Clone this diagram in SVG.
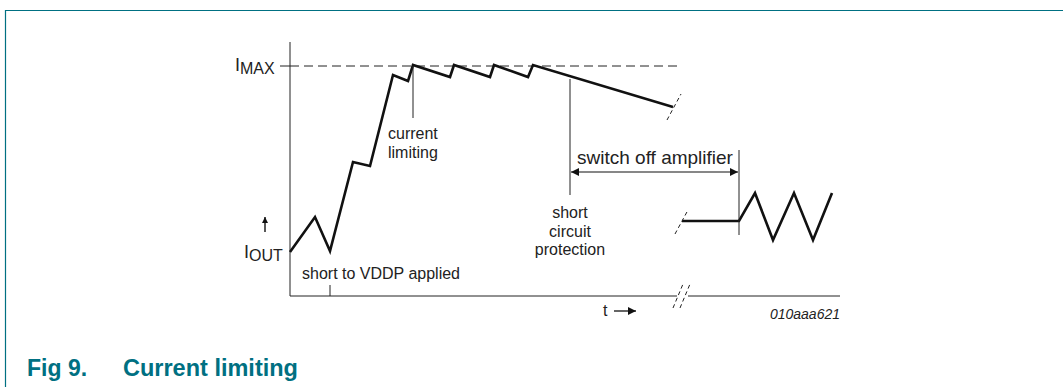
<svg xmlns="http://www.w3.org/2000/svg" width="1063" height="387" viewBox="0 0 1063 387">
<style>
text{font-family:"Liberation Sans",Arial,sans-serif;fill:#222}
.lbl{font-size:16px}
.wave{fill:none;stroke:#111;stroke-width:2.6;stroke-linejoin:miter}
.thin{fill:none;stroke:#222;stroke-width:1}
.brk{fill:none;stroke:#222;stroke-width:1;stroke-dasharray:4,3}
</style>
<defs>
<marker id="ah" viewBox="0 0 10 10" refX="10" refY="5" markerWidth="10" markerHeight="8" markerUnits="userSpaceOnUse" orient="auto-start-reverse"><path d="M0,0 L10,5 L0,10 z" fill="#111"/></marker>
<marker id="ahs" viewBox="0 0 10 10" refX="10" refY="5" markerWidth="7" markerHeight="6" markerUnits="userSpaceOnUse" orient="auto"><path d="M0,0 L10,5 L0,10 z" fill="#111"/></marker>
</defs>
<g id="frame">
<path d="M5.5,387 V10.5 H1063" fill="none" stroke="#007082" stroke-width="1.2"/>
</g>
<g id="axes">
<line class="thin" x1="290" y1="42" x2="290" y2="296"/>
<line class="thin" x1="290" y1="296" x2="677" y2="296"/>
<line class="thin" x1="688" y1="296" x2="840" y2="296"/>
<line class="brk" x1="673" y1="308" x2="683" y2="284"/>
<line class="brk" x1="680" y1="308" x2="690" y2="284"/>
<line class="thin" x1="280" y1="66" x2="290" y2="66"/>
<line class="thin" x1="290" y1="66" x2="677" y2="66" stroke-dasharray="9,5"/>
</g>
<g id="labels-axes">
<text x="235" y="71" font-size="18">I<tspan font-size="16" dy="3">MAX</tspan></text>
<text x="244" y="258" font-size="18">I<tspan font-size="16" dy="3">OUT</tspan></text>
<line x1="265" y1="232" x2="265" y2="217" stroke="#111" stroke-width="1.4" marker-end="url(#ahs)"/>
<text class="lbl" x="603" y="316">t</text>
<line x1="614" y1="311" x2="636" y2="311" stroke="#111" stroke-width="1.3" marker-end="url(#ah)"/>
<text x="840" y="319" font-size="14" font-style="italic" text-anchor="end">010aaa621</text>
</g>
<g id="waveform">
<polyline class="wave" points="290,252 315,217 330,251 353,162 370,166 393,75 408,81 413,65 450,77 454,65 490,77 494,65 528,77 533,65 673,107"/>
<line class="brk" x1="667" y1="120" x2="681" y2="94"/>
<polyline class="wave" points="682,221 739,221 755,193 773,240 794,193 813,240 832,193"/>
<line class="brk" x1="675" y1="234" x2="688" y2="210"/>
</g>
<g id="current-limiting">
<line class="thin" x1="413" y1="66" x2="413" y2="118"/>
<text class="lbl" x="388" y="139">current</text>
<text class="lbl" x="388" y="158">limiting</text>
</g>
<g id="short-to-vddp">
<line class="thin" x1="330" y1="285" x2="330" y2="296"/>
<text class="lbl" x="302" y="279">short to VDDP applied</text>
</g>
<g id="short-circuit-protection">
<line class="thin" x1="570" y1="79" x2="570" y2="195"/>
<text class="lbl" x="570" y="218" text-anchor="middle">short</text>
<text class="lbl" x="570" y="237" text-anchor="middle">circuit</text>
<text class="lbl" x="570" y="255" text-anchor="middle">protection</text>
</g>
<g id="switch-off">
<line class="thin" x1="739" y1="150" x2="739" y2="235"/>
<line x1="571" y1="172" x2="738" y2="172" stroke="#111" stroke-width="1.2" marker-start="url(#ah)" marker-end="url(#ah)"/>
<text x="577" y="164" font-size="19">switch off amplifier</text>
</g>
<g id="caption">
<text x="27" y="376" font-size="23" font-weight="bold" style="fill:#007082">Fig 9.</text>
<text x="123" y="376" font-size="23.5" font-weight="bold" style="fill:#007082">Current limiting</text>
</g>
</svg>
